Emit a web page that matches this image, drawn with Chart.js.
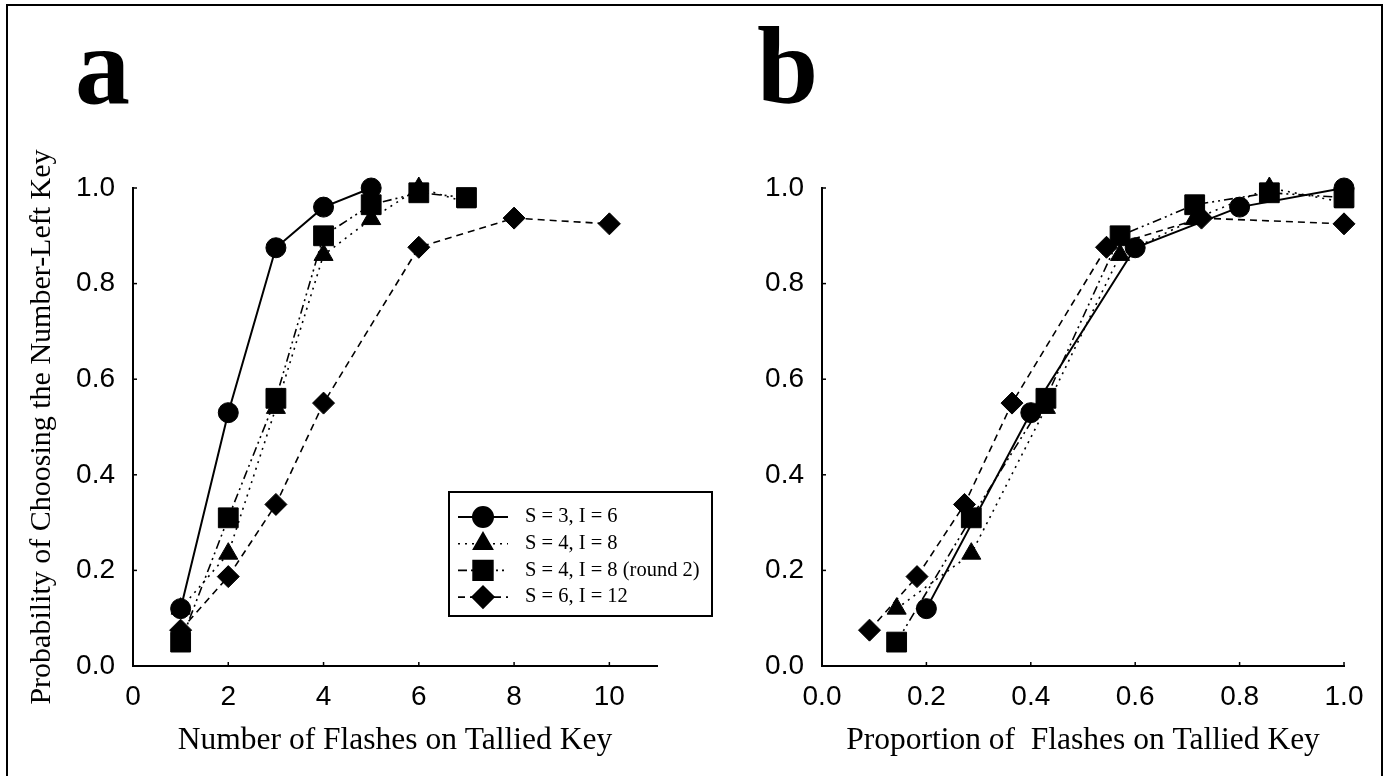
<!DOCTYPE html>
<html>
<head>
<meta charset="utf-8">
<script src="https://cdn.jsdelivr.net/npm/chart.js@4/dist/chart.umd.min.js"></script>
<style>
html, body { margin: 0; padding: 0; background: #fff; overflow: hidden; width: 1389px; height: 776px; }
#frame { position: absolute; left: 6px; top: 4px; width: 1377px; height: 800px; border: 2px solid #000; box-sizing: border-box; }
.panel { position: absolute; top: 0; }
.letter { position: absolute; top: 11px; font-family: "Liberation Serif"; font-weight: bold; font-size: 110px; line-height: 110px; color: #000; }
</style>
</head>
<body>
<div id="frame"></div>
<div class="letter" style="left:75px">a</div>
<div class="letter" style="left:757px">b</div>
<canvas id="panelA" class="panel" width="720" height="776" style="left:0"></canvas>
<canvas id="panelB" class="panel" width="689" height="776" style="left:700px"></canvas>
<script>
// data
var flashesS3 = [1, 2, 3, 4, 5];
var flashesS4 = [1, 2, 3, 4, 5, 6, 7];
var flashesS6 = [1, 2, 3, 4, 6, 8, 10];
var proportionS3 = [0.2, 0.4, 0.6, 0.8, 1.0];
var proportionS4 = [0.143, 0.286, 0.429, 0.571, 0.714, 0.857, 1.0];
var proportionS6 = [0.091, 0.182, 0.273, 0.364, 0.545, 0.727, 1.0];
var probS3 = [0.12, 0.53, 0.875, 0.96, 1.0];
var probS4 = [0.12, 0.235, 0.54, 0.86, 0.935, 1.0, 0.97];
var probS4round2 = [0.05, 0.31, 0.56, 0.90, 0.965, 0.99, 0.98];
var probS6 = [0.075, 0.187, 0.338, 0.55, 0.876, 0.937, 0.925];
var seriesLabels = ["S = 3, I = 6", "S = 4, I = 8", "S = 4, I = 8 (round 2)", "S = 6, I = 12"];

var seriesStyles = [
    {pointStyle: 'circle', radius: 10, dash: [], width: 2, order: 0},
    {pointStyle: 'triangle', radius: 11, dash: [2, 5], width: 1.6, order: 2},
    {pointStyle: 'rect', radius: 14, dash: [9, 4, 2, 4, 2, 4], width: 1.6, order: 1},
    {pointStyle: 'rectRot', radius: 11, dash: [7, 5], width: 1.6, order: 3}
];

var tickFont = {family: 'Liberation Sans', size: 28};
var titleFont = {family: 'Liberation Serif', size: 31.5, lineHeight: 1.2};
var yTitleFont = {family: 'Liberation Serif', size: 30, lineHeight: 1.2};

function makeDatasets(xLists, yLists){
    var sets = [];
    for (var s = 0; s < yLists.length; s++){
        var st = seriesStyles[s];
        var pts = [];
        for (var i = 0; i < yLists[s].length; i++){
            pts.push({x: xLists[s][i], y: yLists[s][i]});
        }
        sets.push({
            label: seriesLabels[s],
            data: pts,
            showLine: true,
            borderColor: '#000',
            backgroundColor: '#000',
            borderWidth: st.width,
            borderDash: st.dash,
            pointStyle: st.pointStyle,
            pointRadius: st.radius,
            pointHoverRadius: st.radius,
            pointBorderWidth: 1,
            pointBackgroundColor: '#000',
            pointBorderColor: '#000',
            order: st.order,
            clip: false
        });
    }
    return sets;
}

// small ticks pointing into the plot, like the original
var innerTicks = {
    id: 'innerTicks',
    beforeDatasetsDraw: function(chart){
        var ctx = chart.ctx, area = chart.chartArea;
        var xs = chart.scales.x, ys = chart.scales.y;
        ctx.save();
        ctx.strokeStyle = '#000';
        ctx.lineWidth = 1.5;
        xs.ticks.forEach(function(t){
            var px = xs.getPixelForValue(t.value);
            ctx.beginPath(); ctx.moveTo(px, area.bottom); ctx.lineTo(px, area.bottom - 4); ctx.stroke();
        });
        ys.ticks.forEach(function(t){
            var py = ys.getPixelForValue(t.value);
            ctx.beginPath(); ctx.moveTo(area.left, py); ctx.lineTo(area.left + 4, py); ctx.stroke();
        });
        ctx.restore();
    }
};

var legendBox = {
    id: 'legendBox',
    afterDraw: function(chart){
        var ctx = chart.ctx;
        ctx.save();
        ctx.strokeStyle = '#000';
        ctx.fillStyle = '#000';
        ctx.lineWidth = 2;
        ctx.strokeRect(449, 492, 263, 124);
        ctx.font = '20.5px "Liberation Serif"';
        ctx.textBaseline = 'middle';
        chart.data.datasets.forEach(function(ds, i){
            var y = 517 + i * 26.7;
            ctx.lineWidth = ds.borderWidth;
            ctx.setLineDash(ds.borderDash);
            ctx.beginPath(); ctx.moveTo(458, y); ctx.lineTo(508, y); ctx.stroke();
            ctx.setLineDash([]);
            Chart.helpers.drawPoint(ctx, {pointStyle: ds.pointStyle, radius: ds.pointRadius, rotation: 0, borderWidth: 1}, 483, y);
            ctx.fillText(ds.label, 525, y);
        });
        ctx.restore();
    }
};

function yScale(width, showTitle){
    return {
        min: 0, max: 1,
        afterFit: function(s){ s.width = width; },
        grid: {display: false, drawTicks: false},
        border: {display: true, color: '#000', width: 2},
        ticks: {stepSize: 0.2, padding: 18, color: '#000', font: tickFont,
            callback: function(v){ return v.toFixed(1); }},
        title: {display: showTitle, text: 'Probability of Choosing the Number-Left Key',
            color: '#000', font: yTitleFont, padding: {top: 24, bottom: 0}}
    };
}

function createGraph(id, datasets, xOptions, yOptions, padRight, plugins){
    var ctx = document.getElementById(id);
    var myChart = new Chart(ctx, {
        type: 'scatter',
        data: {datasets: datasets},
        options: {
            responsive: false,
            animation: false,
            layout: {padding: {top: 188, right: padRight, bottom: 10, left: 0}},
            plugins: {legend: {display: false}, tooltip: {enabled: false}},
            scales: {x: xOptions, y: yOptions}
        },
        plugins: plugins
    });
    return myChart;
}

createGraph('panelA',
    makeDatasets([flashesS3, flashesS4, flashesS4, flashesS6], [probS3, probS4, probS4round2, probS6]),
    {
        min: 0, max: 11,
        afterFit: function(s){ s.height = 100; },
        afterBuildTicks: function(s){ s.ticks = s.ticks.filter(function(t){ return t.value <= 10; }); },
        grid: {display: false, drawTicks: false},
        border: {display: true, color: '#000', width: 2},
        ticks: {stepSize: 2, padding: 14, color: '#000', font: tickFont},
        title: {display: true, text: 'Number of Flashes on Tallied Key', color: '#000', font: titleFont, padding: {top: 0, bottom: 6}}
    },
    yScale(133, true), 63, [innerTicks, legendBox]);

createGraph('panelB',
    makeDatasets([proportionS3, proportionS4, proportionS4, proportionS6], [probS3, probS4, probS4round2, probS6]),
    {
        min: 0, max: 1,
        afterFit: function(s){ s.height = 100; },
        grid: {display: false, drawTicks: false},
        border: {display: true, color: '#000', width: 2},
        ticks: {stepSize: 0.2, padding: 14, color: '#000', font: tickFont,
            callback: function(v){ return v.toFixed(1); }},
        title: {display: true, text: 'Proportion of  Flashes on Tallied Key', color: '#000', font: titleFont, padding: {top: 0, bottom: 6}}
    },
    yScale(122, false), 45, [innerTicks]);
</script>
</body>
</html>
